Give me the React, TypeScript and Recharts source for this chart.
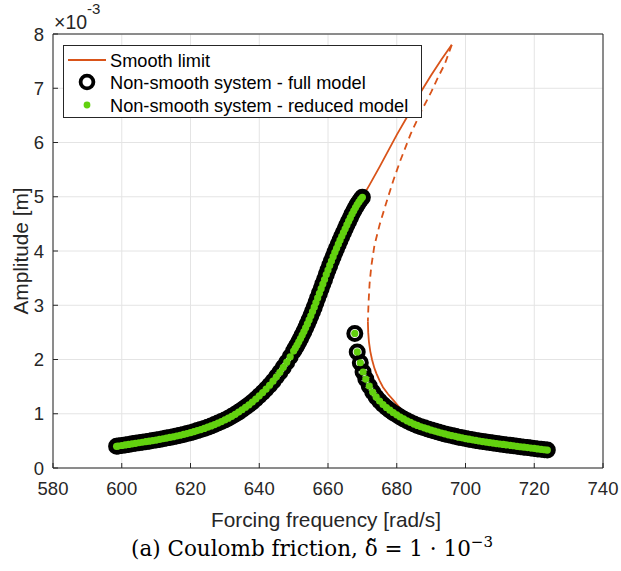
import { CartesianGrid, ComposedChart, Legend, Line, Scatter, XAxis, YAxis } from 'recharts';

type Point = [number, number];

const ORANGE = '#D95319';
const GREEN = '#62D10F';
const AXIS = '#262626';
const SANS = '"Liberation Sans", Arial, Helvetica, sans-serif';

const xTicks = [580, 600, 620, 640, 660, 680, 700, 720, 740];
const yTicks = [0, 1, 2, 3, 4, 5, 6, 7, 8];

// amplitudes are in units of 1e-3 m (axis carries the x10^-3 factor)

// non-smooth system, full model: resonant branch up to the peak
const fullUpperBranch: Point[] = [
  [598.5, 0.4], [599, 0.405], [600, 0.415], [601, 0.425], [602, 0.435], [603, 0.445],
  [604, 0.455], [605, 0.465], [606, 0.475], [607, 0.485], [608, 0.495], [609, 0.505],
  [610, 0.515], [611, 0.527], [612, 0.539], [613, 0.551], [614, 0.563], [615, 0.576],
  [616, 0.59], [617, 0.604], [618, 0.619], [619, 0.635], [620, 0.652], [621, 0.67],
  [622, 0.689], [623, 0.709], [624, 0.73], [625, 0.752], [626, 0.776], [627, 0.801],
  [628, 0.828], [629, 0.856], [630, 0.886], [631, 0.918], [632, 0.952], [633, 0.99],
  [634, 1.03], [635, 1.074], [636, 1.12], [637, 1.165], [638, 1.215], [639, 1.27],
  [640, 1.33], [641, 1.39], [642, 1.455], [643, 1.525], [644, 1.6], [645, 1.68],
  [646, 1.765], [647, 1.855], [648, 1.95], [649, 2.05], [650, 2.155], [650.5, 2.21],
  [651, 2.265], [651.5, 2.325], [652, 2.385], [652.5, 2.45], [653, 2.515], [653.5, 2.585],
  [654, 2.655], [654.5, 2.73], [655, 2.805], [655.5, 2.885], [656, 2.965], [656.5, 3.05],
  [657, 3.135], [657.5, 3.22], [658, 3.305], [658.5, 3.39], [659, 3.475], [659.5, 3.565],
  [660, 3.65], [660.5, 3.735], [661, 3.815], [661.5, 3.895], [662, 3.975], [662.5, 4.05],
  [663, 4.125], [663.5, 4.2], [664, 4.27], [664.5, 4.34], [665, 4.41], [665.5, 4.48],
  [666, 4.55], [666.5, 4.615], [667, 4.68], [667.5, 4.74], [668, 4.8], [668.5, 4.855],
  [669, 4.905], [669.5, 4.95], [670, 4.99]
];

// the isolated points just after the jump down
const fullJumpPoints: Point[] = [[667.8, 2.48], [668.5, 2.14], [669.4, 1.94]];

// lower branch after the jump
const fullLowerBranch: Point[] = [
  [670.2, 1.77], [671, 1.64], [672, 1.51], [673, 1.4], [674, 1.31], [675, 1.235],
  [676, 1.17], [677, 1.115], [678, 1.065], [679, 1.02], [680, 0.98], [681, 0.94],
  [682, 0.905], [683, 0.87], [684, 0.84], [685, 0.81], [686, 0.785], [687, 0.76],
  [688, 0.74], [689, 0.72], [690, 0.7], [691, 0.68], [692, 0.662], [693, 0.645],
  [694, 0.628], [695, 0.612], [696, 0.597], [697, 0.583], [698, 0.569], [699, 0.556],
  [700, 0.543], [701, 0.531], [702, 0.52], [703, 0.509], [704, 0.498], [705, 0.488],
  [706, 0.478], [707, 0.469], [708, 0.46], [709, 0.451], [710, 0.442], [711, 0.434],
  [712, 0.426], [713, 0.418], [714, 0.41], [715, 0.4], [716, 0.392], [717, 0.384],
  [718, 0.376], [719, 0.368], [720, 0.36], [721, 0.352], [722, 0.344], [723, 0.336],
  [723.8, 0.33]
];

// smooth limit: stable upper branch, unstable (dashed) branch, stable lower branch
const smoothUpper: Point[] = [
  [598.5, 0.4], [605, 0.465], [610, 0.515], [615, 0.576], [620, 0.652], [625, 0.752],
  [630, 0.886], [635, 1.074], [640, 1.33], [645, 1.68], [650, 2.155], [655, 2.805],
  [660, 3.65], [665, 4.41], [668, 4.8], [670, 4.99], [672, 5.21], [675, 5.55],
  [680, 6.14], [684, 6.58], [687, 6.93], [690, 7.24], [693, 7.53], [696, 7.8]
];
const smoothUnstable: Point[] = [
  [696, 7.8], [694, 7.45], [692, 7.2], [690, 6.93], [687, 6.56], [684, 6.15],
  [681, 5.66], [679, 5.3], [677, 4.9], [675, 4.48], [673.5, 4.1], [672.6, 3.72],
  [672.1, 3.4], [671.8, 3.05], [671.65, 2.8], [671.6, 2.7]
];
const smoothLower: Point[] = [
  [671.6, 2.7], [671.7, 2.5], [671.9, 2.33], [672.3, 2.15], [672.8, 2.0], [673.5, 1.84],
  [674.1, 1.74], [675, 1.61], [676, 1.49], [677.5, 1.36], [679, 1.25], [681, 1.1],
  [684, 0.93], [688, 0.8], [692, 0.7], [697, 0.61], [703, 0.53], [710, 0.455],
  [717, 0.395], [723.8, 0.335]
];

const legendLabels = [
  'Smooth limit',
  'Non-smooth system - full model',
  'Non-smooth system - reduced model'
];

const rows = (pts: Point[]) => pts.map(([f, a]) => ({ f, a }));

const fullModel = rows([...fullUpperBranch, ...fullJumpPoints, ...fullLowerBranch]);
// the reduced model reproduces the full model point for point
const reducedModel = rows([...fullUpperBranch, ...fullJumpPoints, ...fullLowerBranch]);

function Ring(props: { cx?: number; cy?: number }) {
  if (props.cx == null || props.cy == null) return <g />;
  return <circle cx={props.cx} cy={props.cy} r={6.5} fill="none" stroke="#000" strokeWidth={4} />;
}

function GreenDot(props: { cx?: number; cy?: number }) {
  if (props.cx == null || props.cy == null) return <g />;
  return <circle cx={props.cx} cy={props.cy} r={3.6} fill={GREEN} />;
}

function LegendBox() {
  const rowsY = [15, 37, 60];
  return (
    <svg width={359} height={73} style={{ display: 'block' }}>
      <rect x={0.5} y={0.5} width={358} height={72} fill="#fff" stroke={AXIS} strokeWidth={1} />
      <line x1={5} x2={43} y1={rowsY[0]} y2={rowsY[0]} stroke={ORANGE} strokeWidth={2} />
      <circle cx={24} cy={rowsY[1]} r={6.4} fill="none" stroke="#000" strokeWidth={3.8} />
      <circle cx={24} cy={rowsY[2]} r={3.4} fill={GREEN} />
      {legendLabels.map((label, i) => (
        <text
          key={label}
          x={47}
          y={rowsY[i] + 6.5}
          fontFamily={SANS}
          fontSize={18.2}
          fill="#000"
        >
          {label}
        </text>
      ))}
    </svg>
  );
}

export default function App() {
  const W = 621;
  const H = 571;
  const tickStyle = { fill: AXIS, fontSize: 18.5, fontFamily: SANS };

  return (
    <div style={{ position: 'absolute', left: 0, top: 0, width: W, height: H, background: '#fff' }}>
      <ComposedChart width={W} height={H} margin={{ top: 33, right: 17, bottom: 73, left: 0 }}>
        <CartesianGrid stroke="#e4e4e4" strokeWidth={1} />
        <XAxis
          dataKey="f"
          type="number"
          domain={[580, 740]}
          ticks={xTicks}
          allowDataOverflow
          height={30}
          tickSize={-5}
          tickMargin={19}
          stroke={AXIS}
          tick={tickStyle}
        />
        <XAxis
          xAxisId="top"
          orientation="top"
          type="number"
          domain={[580, 740]}
          ticks={xTicks}
          allowDataOverflow
          height={1}
          tickSize={-5}
          tick={false}
          stroke={AXIS}
        />
        <YAxis
          type="number"
          domain={[0, 8]}
          ticks={yTicks}
          allowDataOverflow
          width={53}
          tickSize={-5}
          tickMargin={14}
          stroke={AXIS}
          tick={tickStyle}
        />
        <YAxis
          yAxisId="right"
          orientation="right"
          type="number"
          domain={[0, 8]}
          ticks={yTicks}
          allowDataOverflow
          width={1}
          tickSize={-5}
          tick={false}
          stroke={AXIS}
        />
        <Line
          data={rows(smoothUpper)}
          dataKey="a"
          type="linear"
          stroke={ORANGE}
          strokeWidth={1.8}
          dot={false}
          isAnimationActive={false}
        />
        <Line
          data={rows(smoothUnstable)}
          dataKey="a"
          type="linear"
          stroke={ORANGE}
          strokeWidth={1.8}
          strokeDasharray="7 5"
          dot={false}
          isAnimationActive={false}
        />
        <Line
          data={rows(smoothLower)}
          dataKey="a"
          type="linear"
          stroke={ORANGE}
          strokeWidth={1.8}
          dot={false}
          isAnimationActive={false}
        />
        <Scatter data={fullModel} dataKey="a" shape={<Ring />} isAnimationActive={false} />
        <Scatter data={reducedModel} dataKey="a" shape={<GreenDot />} isAnimationActive={false} />
        <Legend
          layout="vertical"
          align="center"
          verticalAlign="middle"
          content={<LegendBox />}
          wrapperStyle={{ left: 63, top: 45, width: 359, height: 73 }}
        />
      </ComposedChart>
      <svg
        width={W}
        height={H}
        style={{ position: 'absolute', left: 0, top: 0, pointerEvents: 'none' }}
      >
        <text x={54} y={29} fontFamily={SANS} fontSize={19.5} fill={AXIS}>
          ×10
          <tspan dy={-15} fontSize={15}>-3</tspan>
        </text>
        <text x={326} y={527} textAnchor="middle" fontFamily={SANS} fontSize={20.8} fill={AXIS}>
          Forcing frequency [rad/s]
        </text>
        <text
          transform="translate(28,251) rotate(-90)"
          textAnchor="middle"
          fontFamily={SANS}
          fontSize={20.8}
          fill={AXIS}
        >
          Amplitude [m]
        </text>
        <text x={312} y={556} textAnchor="middle" fontFamily='"DejaVu Serif", serif' fontSize={21.5} fill="#000">
          (a) Coulomb friction, δ̃ = 1 · 10
          <tspan dy={-9} fontSize={15}>−3</tspan>
        </text>
      </svg>
    </div>
  );
}
